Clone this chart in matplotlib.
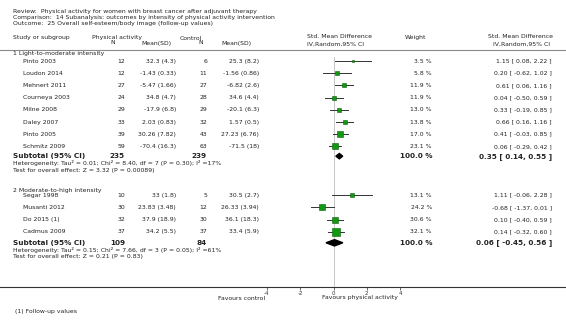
import numpy as np
import matplotlib
matplotlib.use("Agg")
import matplotlib.pyplot as plt
from matplotlib import transforms

# ---- data ----
g1_studies = ["Pinto 2003", "Loudon 2014", "Mehnert 2011", "Courneya 2003",
              "Milne 2008", "Daley 2007", "Pinto 2005", "Schmitz 2009"]
g1_pa_n = [12, 12, 27, 24, 29, 33, 39, 59]
g1_pa_msd = ["32.3 (4.3)", "-1.43 (0.33)", "-5.47 (1.66)", "34.8 (4.7)",
             "-17.9 (6.8)", "2.03 (0.83)", "30.26 (7.82)", "-70.4 (16.3)"]
g1_ct_n = [6, 11, 27, 28, 29, 32, 43, 63]
g1_ct_msd = ["25.3 (8.2)", "-1.56 (0.86)", "-6.82 (2.6)", "34.6 (4.4)",
             "-20.1 (6.3)", "1.57 (0.5)", "27.23 (6.76)", "-71.5 (18)"]
g1_weight = [3.5, 5.8, 11.9, 11.9, 13.0, 13.8, 17.0, 23.1]
g1_smd = [1.15, 0.20, 0.61, 0.04, 0.33, 0.66, 0.41, 0.06]
g1_lo = [0.08, -0.62, 0.06, -0.50, -0.19, 0.16, -0.03, -0.29]
g1_hi = [2.22, 1.02, 1.16, 0.59, 0.85, 1.16, 0.85, 0.42]
g1_total = (235, 239)
g1_pooled = (0.35, 0.14, 0.55)
g1_het = "Heterogeneity: Tau\u00b2 = 0.01; Chi\u00b2 = 8.40, df = 7 (P = 0.30); I\u00b2 =17%"
g1_test = "Test for overall effect: Z = 3.32 (P = 0.00089)"

g2_studies = ["Segar 1998", "Musanti 2012", "Do 2015 (1)", "Cadmus 2009"]
g2_pa_n = [10, 30, 32, 37]
g2_pa_msd = ["33 (1.8)", "23.83 (3.48)", "37.9 (18.9)", "34.2 (5.5)"]
g2_ct_n = [5, 12, 30, 37]
g2_ct_msd = ["30.5 (2.7)", "26.33 (3.94)", "36.1 (18.3)", "33.4 (5.9)"]
g2_weight = [13.1, 24.2, 30.6, 32.1]
g2_smd = [1.11, -0.68, 0.10, 0.14]
g2_lo = [-0.06, -1.37, -0.40, -0.32]
g2_hi = [2.28, 0.01, 0.59, 0.60]
g2_total = (109, 84)
g2_pooled = (0.06, -0.45, 0.56)
g2_het = "Heterogeneity: Tau\u00b2 = 0.15; Chi\u00b2 = 7.66, df = 3 (P = 0.05); I\u00b2 =61%"
g2_test = "Test for overall effect: Z = 0.21 (P = 0.83)"

ticks = [-4, -2, 0, 2, 4]

# ---- layout ----
W, H = 566, 329
fig = plt.figure(figsize=(W / 100, H / 100), dpi=100)
ax_top, ax_bot = 50, 287
ax = fig.add_axes([0, 1 - ax_bot / H, 1, (ax_bot - ax_top) / H])
px_per_unit = 16.7
zero_px = 333.5
ax.set_xlim(-zero_px / px_per_unit, (W - zero_px) / px_per_unit)
row0, row_h = 61, 12.2
ax.set_ylim((ax_bot - row0) / row_h, (ax_top - row0) / row_h)

for s in ["left", "right"]:
    ax.spines[s].set_visible(False)
ax.spines["top"].set_color("#8a8a8a")
ax.spines["top"].set_linewidth(0.8)
ax.spines["bottom"].set_color("#333333")
ax.spines["bottom"].set_linewidth(0.8)
ax.set_yticks([])
ax.set_xticks(ticks)
ax.set_xticklabels([str(t) for t in ticks])
ax.tick_params(axis="x", length=2, width=0.5, pad=1, labelsize=4.0,
               colors="#333333")
ax.patch.set_alpha(0)

ytop_frac = (row0 - 4 - ax_top) / (ax_bot - ax_top)
ax.axvline(0, ymin=0, ymax=1 - ytop_frac, color="#bdbdbd", lw=0.6, zorder=0)

tx = transforms.blended_transform_factory(fig.transFigure, ax.transData)
fs = 4.4
fsb = 5.2


def t(xpx, y, s, ha="left", bold=False, size=None):
    fig.text(xpx / W, y, s, transform=tx, ha=ha, va="center",
             fontsize=size or (fsb if bold else fs),
             fontweight="bold" if bold else "normal", color="#222222")


def ft(xpx, ypx, s, ha="left", size=fs):
    fig.text(xpx / W, 1 - ypx / H, s, ha=ha, va="center", fontsize=size,
             color="#222222")


# header
ft(13, 12, "Review:  Physical activity for women with breast cancer after adjuvant therapy")
ft(13, 18, "Comparison:  14 Subanalysis: outcomes by intensity of physical activity intervention")
ft(13, 24, "Outcome:  25 Overall self-esteem/body image (follow-up values)")
ft(13, 38, "Study or subgroup")
ft(92, 38, "Physical activity")
ft(113, 43, "N", ha="center")
ft(172, 43, "Mean(SD)", ha="right")
ft(180, 38, "Control")
ft(201, 43, "N", ha="center")
ft(252, 43, "Mean(SD)", ha="right")
ft(307, 37, "Std. Mean Difference")
ft(307, 44, "IV,Random,95% CI")
ft(405, 37, "Weight")
ft(553, 37, "Std. Mean Difference", ha="right")
ft(550, 44, "IV,Random,95% CI", ha="right")


def group(title, title_y, first, studies, pan, pam, ctn, ctm, w, smd, lo, hi,
          total, pooled, het, test, sub_y, dh):
    t(13, title_y, title)
    rows = first + np.arange(len(studies))
    for r, name, a, b, c, d, wt, m, l, h in zip(rows, studies, pan, pam, ctn,
                                                ctm, w, smd, lo, hi):
        t(23, r, name)
        t(125, r, str(a), ha="right")
        t(176, r, b, ha="right")
        t(207, r, str(c), ha="right")
        t(259, r, d, ha="right")
        t(432, r, "%.1f %%" % wt, ha="right")
        t(552, r, "%.2f [ %.2f, %.2f ]" % (m, l, h), ha="right")
        ax.plot([l, h], [r, r], color="#333333", lw=0.7, zorder=2)
        ax.plot([m], [r], marker="s", ms=1.25 * np.sqrt(wt) * 0.72,
                mfc="#119911", mec="#0b5e0b", mew=0.4, zorder=3)
    m, l, h = pooled
    ax.fill([l, m, h, m], [sub_y, sub_y - dh, sub_y, sub_y + dh],
            color="black", zorder=3)
    t(13, sub_y, "Subtotal (95% CI)", bold=True)
    t(125, sub_y, str(total[0]), ha="right", bold=True)
    t(207, sub_y, str(total[1]), ha="right", bold=True)
    t(432, sub_y, "100.0 %", ha="right", bold=True)
    t(552, sub_y, "%.2f [ %.2f, %.2f ]" % (m, l, h), ha="right", bold=True)
    t(13, sub_y + 0.57, het)
    t(13, sub_y + 1.14, test)


group("1 Light-to-moderate intensity", -0.65, 0, g1_studies, g1_pa_n, g1_pa_msd,
      g1_ct_n, g1_ct_msd, g1_weight, g1_smd, g1_lo, g1_hi, g1_total,
      g1_pooled, g1_het, g1_test, 7.8, 0.22)
group("2 Moderate-to-high intensity", 10.6, 11, g2_studies, g2_pa_n, g2_pa_msd,
      g2_ct_n, g2_ct_msd, g2_weight, g2_smd, g2_lo, g2_hi, g2_total,
      g2_pooled, g2_het, g2_test, 14.9, 0.26)

ft(265, 298, "Favours control", ha="right")
ft(322, 298, "Favours physical activity")
ft(15, 312, "(1) Follow-up values")

fig.savefig("out.png", dpi=100)
